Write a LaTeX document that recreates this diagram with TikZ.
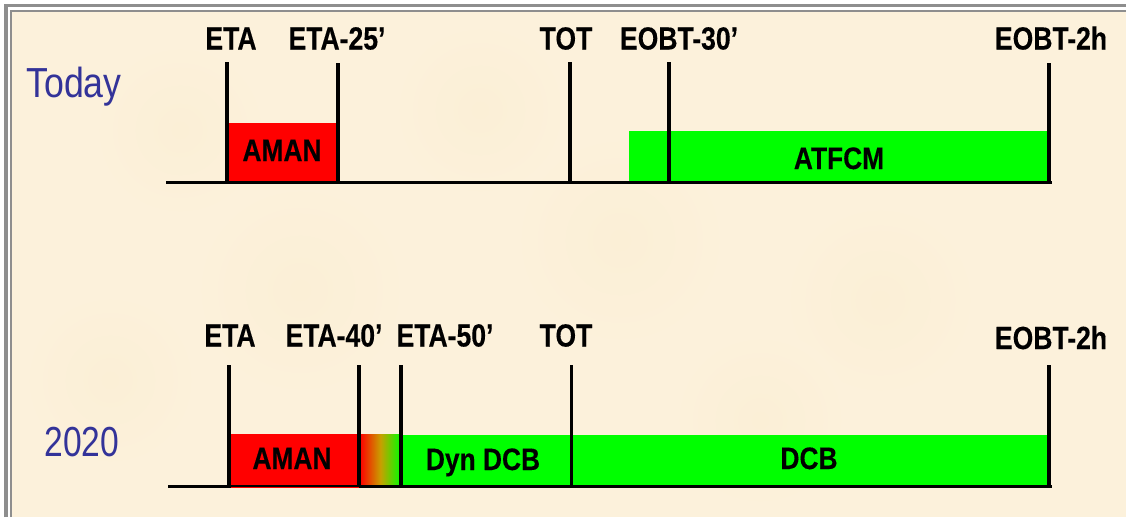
\documentclass[tikz,border=0pt]{standalone}
\usepackage{fontspec}
\setmainfont{Liberation Sans}
\newfontfamily\lblfont[FakeStretch=0.83,FakeBold=0.25]{Liberation Sans Bold}
\newfontfamily\barfont[FakeStretch=0.85,FakeBold=0.25]{Liberation Sans Bold}
\newfontfamily\rowfont[FakeStretch=0.85]{Liberation Sans}
\newfontfamily\yearfont[FakeStretch=0.80]{Liberation Sans}
\definecolor{parch}{HTML}{FCF1DB}
\definecolor{blotch}{HTML}{FBEFD6}
\definecolor{frameg}{HTML}{8E8E8E}
\definecolor{rowblue}{HTML}{333399}
\definecolor{barred}{HTML}{FF0000}
\definecolor{bargreen}{HTML}{00FF00}
\definecolor{gradmid}{HTML}{C8A000}
\tikzset{
  lbl/.style={font=\lblfont\fontsize{32}{32}\selectfont,text=black,inner sep=0pt,anchor=base},
  barlbl/.style={font=\barfont\fontsize{31}{31}\selectfont,text=black,inner sep=0pt,anchor=base},
  rowlbl/.style={font=\rowfont\fontsize{42}{42}\selectfont,text=rowblue,inner sep=0pt,anchor=base},
  yearlbl/.style={font=\yearfont\fontsize{42}{42}\selectfont,text=rowblue,inner sep=0pt,anchor=base},
  axis/.style={draw=black,line width=3.4pt},
  tick/.style={draw=black,line width=3.4pt},
  framel/.style={draw=frameg,line width=3.4pt},
  soft/.style={inner color=blotch,outer color=parch,draw=none}
}
\begin{document}
\begin{tikzpicture}[x=1pt,y=-1pt]
\useasboundingbox (0,0) rectangle (1126,517);
\fill[white] (0,0) rectangle (1126,517);
\fill[parch] (10,10) rectangle (1126,517);
% mottling
\shade[soft] (180,130) circle (90);
\shade[soft] (620,240) circle (110);
\shade[soft] (880,300) circle (100);
\shade[soft] (300,290) circle (110);
\shade[soft] (480,110) circle (90);
\shade[soft] (760,420) circle (90);
\shade[soft] (110,380) circle (90);
% frame
\draw[framel] (6,517) -- (6,5.5) -- (1126,5.5);
\draw[framel,line width=2.6pt] (11,517) -- (11,11) -- (1126,11);
% row labels
\node[rowlbl] (today) at (74,97.5) {Today};
\node[yearlbl] (y2020) at (82,456) {2020};
% today row
\coordinate (a0) at (166,182.5);
\coordinate (a1) at (1052,182.5);
\coordinate (t1b) at (227,182.5); \coordinate (t1t) at (227,62);
\coordinate (t2b) at (338,182.5); \coordinate (t2t) at (338,63);
\coordinate (t3b) at (570,182.5); \coordinate (t3t) at (570,62);
\coordinate (t4b) at (669,182.5); \coordinate (t4t) at (669,62);
\coordinate (t5b) at (1049,182.5); \coordinate (t5t) at (1049,63);
\fill[barred] (229,123) rectangle (337,184);
\fill[bargreen] (629,131) rectangle (1047,182);
\draw[axis] (a0) -- (a1);
\foreach \n in {1,...,5} \draw[tick] (t\n b) -- (t\n t);
\node[lbl] (l1) at (231,49.5) {ETA};
\node[lbl] (l2) at (337,49.5) {ETA-25’};
\node[lbl] (l3) at (566,49.5) {TOT};
\node[lbl] (l4) at (679,49.5) {EOBT-30’};
\node[lbl] (l5) at (1051,49.5) {EOBT-2h};
\node[barlbl] (b1) at (282,161) {AMAN};
\node[barlbl] (b2) at (839,169) {ATFCM};
% 2020 row
\coordinate (c0) at (168,486.5);
\coordinate (c1) at (1052,486.5);
\coordinate (u1b) at (229,486.5); \coordinate (u1t) at (229,365);
\coordinate (u2b) at (359,486.5); \coordinate (u2t) at (359,365);
\coordinate (u3b) at (401,486.5); \coordinate (u3t) at (401,365);
\coordinate (u4b) at (571.5,486.5); \coordinate (u4t) at (571.5,365);
\coordinate (u5b) at (1049,486.5); \coordinate (u5t) at (1049,365);
\fill[bargreen] (401,434.5) rectangle (1047,485);
\fill[barred] (230,434) rectangle (360,488);
\shade[left color=barred,right color=bargreen,middle color=gradmid] (360,434) rectangle (401,485);
\draw[axis] (c0) -- (c1);
\fill[barred] (231,486.5) rectangle (359,488);
\foreach \n in {1,...,5} \draw[tick] (u\n b) -- (u\n t);
\node[lbl] (m1) at (230,346.5) {ETA};
\node[lbl] (m2) at (334,346.5) {ETA-40’};
\node[lbl] (m3) at (445,346.5) {ETA-50’};
\node[lbl] (m4) at (566,346.5) {TOT};
\node[lbl] (m5) at (1051,349) {EOBT-2h};
\node[barlbl] (d1) at (292,469) {AMAN};
\node[barlbl] (d2) at (483,470) {Dyn DCB};
\node[barlbl] (d3) at (809,469) {DCB};
\end{tikzpicture}
\end{document}
